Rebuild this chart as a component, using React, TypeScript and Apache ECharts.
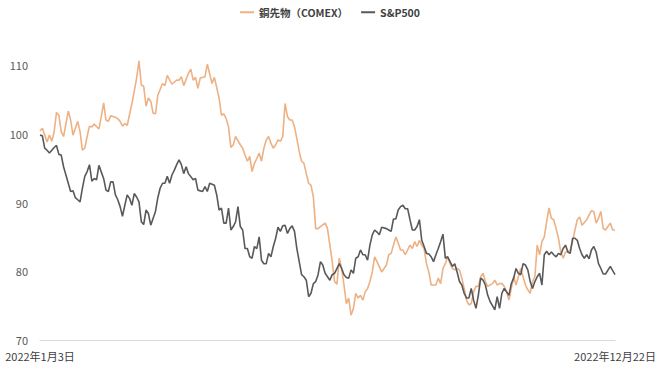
import React, { useEffect, useRef } from "react";
import * as echarts from "echarts";

// Trading-day index (0 = 2022年1月3日, 244 = 2022年12月22日) and index values
const startLabel = "2022年1月3日";
const endLabel = "2022年12月22日";
const lastDay = 244;
const seriesNames = ["銅先物（COMEX）", "S&P500"];
const yTicks = [70, 80, 90, 100, 110];

const copperDays = [
  0, 1, 2, 3, 4, 5, 6, 7, 8, 9, 10, 12, 13, 14, 16, 17, 18, 19, 20, 21, 22, 23, 25, 26, 27, 28, 29, 30, 32, 33,
  34, 35, 36, 37, 39, 40, 41, 42, 43, 44, 45, 46, 47, 48, 49, 50, 52, 53, 54, 56, 58, 59, 60, 61, 63, 64, 65, 66,
  67, 68, 70, 71, 73, 74, 76, 77, 78, 79, 80, 81, 82, 83, 85, 86, 87, 88, 89, 90, 91, 92, 93, 94, 95, 96, 97, 98,
  99, 100, 101, 102, 103, 104, 105, 106, 107, 108, 109, 110, 111, 112, 113, 114, 115, 116, 117, 118, 119, 121,
  122, 123, 124, 125, 126, 127, 128, 129, 130, 131, 132, 133, 134, 135, 136, 137, 138, 139, 140, 141, 142, 143,
  145, 147, 148, 149, 151, 152, 153, 154, 155, 157, 158, 159, 160, 161, 162, 163, 164, 165, 166, 168, 169, 170,
  171, 172, 173, 174, 175, 176, 177, 178, 179, 180, 181, 182, 183, 184, 185, 186, 187, 188, 189, 190, 192, 193,
  194, 195, 196, 197, 198, 199, 200, 201, 202, 203, 204, 205, 206, 207, 208, 209, 210, 211, 212, 213, 214, 215,
  216, 217, 218, 219, 220, 221, 222, 223, 224, 225, 226, 227, 228, 229, 230, 232, 233, 234, 235, 236, 237, 238,
  239, 240, 241, 242, 243, 244,
];
const copperValues = [
  100.4, 100.8, 99.8, 98.8, 99.8, 98.9, 100.3, 103.1, 102.7, 100.3, 99.6, 103.3, 102, 99.8, 101.8, 100.3, 97.6,
  97.9, 99.6, 101.1, 101, 101.4, 100.7, 102.5, 104.5, 102, 101.8, 102.6, 102.4, 102.2, 101.8, 101.1, 101.5, 101.2,
  104.4, 106.2, 108.1, 110.6, 107.1, 106.9, 104, 105.2, 104.7, 103, 102.9, 105.6, 107.3, 107, 108.5, 107.2, 107.8,
  107.8, 108.3, 107, 108.8, 109.4, 107.8, 108.2, 106.6, 108.1, 108.3, 110.1, 107.3, 108.2, 105.2, 102.7, 102.9,
  102.2, 101, 98, 98.4, 99.6, 98.4, 97.9, 96.9, 96, 96.7, 94.5, 95.7, 96.4, 97.2, 96, 97.9, 99.1, 99.6, 98.6, 97.9,
  98.4, 99.1, 98.9, 99.6, 104.4, 102.5, 102, 102, 101, 99.3, 97.4, 96, 95.7, 94.2, 92.8, 92.5, 90.8, 86.2, 86.2,
  86.5, 87, 86.2, 83.8, 81.4, 78.5, 78.1, 81.9, 80.4, 78, 75.3, 76.1, 73.6, 74.6, 76.8, 76.1, 76.5, 75.8, 77, 77.5,
  78.5, 79.9, 82.1, 81.4, 79.9, 80.9, 82.4, 82.6, 85, 84.1, 83.1, 83.1, 82.4, 83.8, 83.3, 84.3, 83.6, 84.5, 83.8,
  83.3, 81.1, 79.9, 78, 78, 79, 78.2, 80.4, 81.1, 82.1, 81.1, 80.4, 80.2, 80.4, 80.2, 79, 77.5, 75.8, 75.1, 75.3,
  77, 77.8, 77.8, 79.2, 79.7, 78.5, 77.8, 78.2, 78.7, 78, 78.2, 78.2, 77.8, 77, 75.8, 77.5, 79.2, 78, 79.2, 80.4,
  79.2, 78, 77.3, 76.8, 78.5, 79.2, 83.8, 82.4, 84.3, 85, 87.2, 89.2, 87.7, 87.5, 86.2, 84.8, 82.8, 81.9, 82.8,
  82.8, 83.1, 84.3, 86, 87.5, 87.9, 86.7, 87.5, 88.2, 88.8, 88.7, 87, 87.7, 88.7, 86.2, 86, 86.5, 87, 86, 86,
];

const spDays = [
  0, 1, 2, 3, 4, 6, 7, 8, 9, 10, 11, 12, 13, 14, 15, 16, 17, 18, 19, 20, 21, 22, 23, 24, 25, 27, 28, 29, 30, 31,
  32, 33, 34, 35, 36, 37, 38, 39, 40, 41, 42, 43, 44, 45, 46, 47, 49, 50, 51, 52, 53, 54, 55, 56, 57, 58, 59, 60,
  61, 62, 63, 65, 66, 67, 69, 70, 71, 72, 74, 75, 76, 77, 78, 79, 80, 81, 82, 83, 84, 85, 86, 87, 88, 89, 90, 91,
  92, 93, 94, 95, 96, 97, 98, 99, 100, 101, 102, 103, 104, 105, 106, 107, 108, 109, 110, 111, 112, 113, 114, 115,
  116, 117, 118, 119, 120, 121, 122, 123, 124, 125, 127, 128, 129, 130, 131, 132, 133, 134, 135, 136, 137, 138,
  139, 140, 141, 142, 143, 144, 145, 147, 148, 149, 150, 151, 152, 153, 154, 155, 156, 157, 158, 159, 160, 161,
  162, 163, 164, 165, 166, 167, 168, 169, 170, 171, 172, 173, 174, 175, 176, 177, 178, 179, 180, 181, 182, 183,
  184, 185, 186, 187, 188, 189, 190, 191, 192, 193, 194, 195, 196, 197, 198, 199, 200, 201, 202, 203, 204, 205,
  206, 207, 208, 209, 210, 211, 212, 213, 214, 215, 216, 217, 218, 219, 220, 221, 222, 223, 224, 225, 226, 227,
  228, 229, 230, 231, 232, 233, 234, 235, 236, 237, 238, 239, 240, 242, 244,
];
const spValues = [
  99.8, 99.7, 97.9, 97.6, 97.2, 98, 98.3, 97, 96.9, 95.2, 94, 92.8, 91.6, 91.7, 90.7, 90.4, 90.1, 92.1, 93.8, 94.5,
  95.5, 93.1, 93.5, 93.3, 95.4, 93.5, 91.8, 91.6, 93, 93, 91.1, 90.4, 89.4, 88, 89.6, 91.1, 90.6, 89.6, 91.3, 90.8,
  90.1, 87.2, 86.8, 88.9, 88.4, 86.7, 88.7, 90.7, 92.1, 92.8, 92.8, 93.8, 92.8, 94, 94.7, 95.5, 96.2, 95.5, 94.2,
  95.2, 94.2, 93.3, 93.5, 91.8, 91.6, 92.3, 91.6, 92.8, 92.5, 91.1, 88.9, 89.2, 87, 87, 89.2, 86, 86.5, 87.2, 89.4,
  86.5, 86, 83.3, 83.3, 82.1, 81.9, 83.6, 83.3, 85, 81.6, 81.1, 81.1, 82.6, 82.1, 83.6, 84.8, 86.4, 85.8, 86.6,
  86.7, 85.5, 86.2, 86.6, 85.8, 83.3, 81.4, 79.5, 79.2, 78.7, 76.3, 76.8, 78.2, 78.5, 79.5, 81.4, 80.9, 79.7, 79.2,
  78.7, 79.5, 79.7, 81.1, 80.4, 79.5, 79.1, 79, 80.2, 79.7, 81.9, 82.1, 83.1, 82.4, 82.4, 81.6, 83.8, 85.3, 86,
  85.7, 85.3, 86.4, 86.2, 86, 85.8, 87.6, 87.6, 88.9, 89.4, 89.6, 89.1, 89.1, 87.5, 86, 86, 86.5, 87.5, 84.5, 83.6,
  82.6, 82.5, 82.1, 81.4, 82.4, 83.3, 84.3, 85.4, 81.9, 82.1, 81.4, 80.7, 81.1, 79.9, 78.5, 78, 76.8, 76.1, 76.1,
  77.5, 75.8, 74.6, 76.5, 79, 78.7, 78, 76.5, 75.6, 75, 74.4, 76.3, 74.6, 76.8, 77.5, 77, 76.5, 78.2, 79, 80.4,
  79.7, 79.5, 81.1, 80.9, 80.2, 78.5, 77.5, 78.5, 79.2, 79.7, 78, 82.4, 82.9, 82.4, 82.8, 82.4, 82.1, 82.6, 82.4,
  83.3, 83.8, 82.8, 82.6, 84.8, 84.8, 84.5, 83.3, 82.4, 81.9, 82.4, 81.8, 83.1, 83.6, 82.8, 81.1, 80.4, 79.6,
  79.6, 80.7, 79.5,
];

const colors = ["#EDB184", "#595959"];
const FONT = "'Noto Sans CJK JP', 'Noto Sans', sans-serif";

export default function App() {
  const ref = useRef<HTMLDivElement>(null);
  useEffect(() => {
    if (!ref.current) return;
    const chart = echarts.init(ref.current, undefined, { renderer: "svg" });
    const copperData = copperDays.map((d, i) => [d, copperValues[i]]);
    const spData = spDays.map((d, i) => [d, spValues[i]]);
    chart.setOption({
      animation: false,
      backgroundColor: "#ffffff",
      color: colors,
      textStyle: { fontFamily: FONT },
      legend: {
        top: 2,
        left: "center",
        icon: "rect",
        itemWidth: 14,
        itemHeight: 2,
        itemGap: 13,
        textStyle: { fontSize: 10.5, fontWeight: "bold", color: "#404040", fontFamily: FONT },
        data: seriesNames,
      },
      grid: { left: 40, right: 45, top: 65, bottom: 31, containLabel: false },
      xAxis: {
        type: "value",
        min: 0,
        max: lastDay,
        interval: lastDay,
        axisLine: { show: true, lineStyle: { color: "#D9D9D9", width: 1 } },
        axisTick: { show: false },
        splitLine: { show: false },
        axisLabel: {
          margin: 10,
          fontSize: 11,
          color: "#404040",
          fontFamily: FONT,
          formatter: (v: number) => (v === 0 ? startLabel : v === lastDay ? endLabel : ""),
        },
      },
      yAxis: {
        type: "value",
        min: yTicks[0],
        max: yTicks[yTicks.length - 1],
        interval: 10,
        axisLine: { show: false },
        axisTick: { show: false },
        splitLine: { show: false },
        axisLabel: { margin: 12, fontSize: 11, color: "#595959", fontFamily: FONT },
      },
      series: [
        {
          name: seriesNames[0],
          type: "line",
          data: copperData,
          showSymbol: false,
          clip: false,
          lineStyle: { width: 1.6, color: colors[0] },
          z: 2,
        },
        {
          name: seriesNames[1],
          type: "line",
          data: spData,
          showSymbol: false,
          clip: false,
          lineStyle: { width: 1.6, color: colors[1] },
          z: 3,
        },
      ],
    });
    return () => chart.dispose();
  }, []);
  return (
    <div
      ref={ref}
      style={{ position: "fixed", left: 0, top: 0, width: 660, height: 371, background: "#fff" }}
    />
  );
}
